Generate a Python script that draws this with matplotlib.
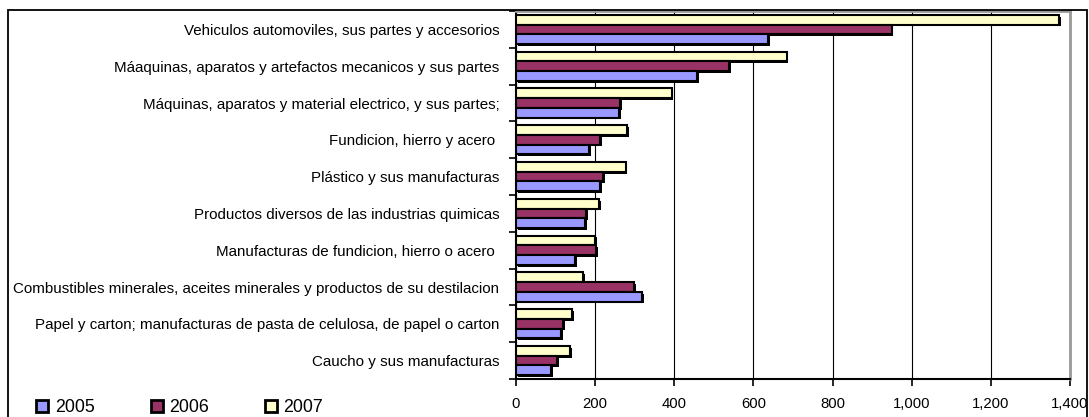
import numpy as np
import matplotlib.pyplot as plt
import matplotlib.patheffects as pe
from matplotlib.lines import Line2D
from matplotlib.patches import Rectangle
from matplotlib.ticker import FuncFormatter

plt.rcParams['font.family'] = ['Liberation Sans', 'DejaVu Sans']

categories = [
    'Vehiculos automoviles, sus partes y accesorios',
    'Máaquinas, aparatos y artefactos mecanicos y sus partes',
    'Máquinas, aparatos y material electrico, y sus partes;',
    'Fundicion, hierro y acero ',
    'Plástico y sus manufacturas',
    'Productos diversos de las industrias quimicas',
    'Manufacturas de fundicion, hierro o acero ',
    'Combustibles minerales, aceites minerales y productos de su destilacion',
    'Papel y carton; manufacturas de pasta de celulosa, de papel o carton',
    'Caucho y sus manufacturas',
]
v2005 = [638, 458, 260, 184, 213, 174, 149, 319, 113, 88]
v2006 = [949, 538, 264, 213, 221, 178, 203, 298, 120, 104]
v2007 = [1373, 684, 393, 281, 277, 210, 199, 169, 141, 136]
years = ['2005', '2006', '2007']
colors = ['#9999FF', '#993366', '#FFFFCC']

fig = plt.figure(figsize=(10.89, 4.17), dpi=100)
ax = fig.add_axes([516/1089, 1 - 379/417, (1070 - 516)/1089, (379 - 11)/417])

y = np.arange(len(categories))
h = 0.265
shadow = [pe.SimplePatchShadow(offset=(1.3, -1.3), shadow_rgbFace='black', alpha=1), pe.Normal()]
for vals, off, c in [(v2007, -h, colors[2]), (v2006, 0, colors[1]), (v2005, h, colors[0])]:
    ax.barh(y + off, vals, height=h, color=c, edgecolor='black', linewidth=1.5,
            path_effects=shadow, zorder=3)

ax.set_xlim(0, 1400)
ax.set_ylim(len(categories) - 0.5, -0.5)
ax.set_xticks(np.arange(0, 1401, 200))
ax.xaxis.set_major_formatter(FuncFormatter(lambda v, p: '{:,.0f}'.format(v)))
ax.grid(axis='x', color='black', linewidth=0.8, zorder=0)
ax.set_yticks(y)
ax.set_yticklabels(categories, fontsize=10.9)
ax.set_yticks(np.arange(-0.5, len(categories), 1), minor=True)
ax.tick_params(axis='y', which='major', length=0, pad=12)
ax.tick_params(axis='y', which='minor', length=5, width=1.2, direction='out')
ax.tick_params(axis='x', length=5, width=1.2, labelsize=10.7, pad=8)

for s in ['left', 'bottom']:
    ax.spines[s].set_color('black')
    ax.spines[s].set_linewidth(1.5)
for s in ['top', 'right']:
    ax.spines[s].set_color('#999999')
    ax.spines[s].set_linewidth(2)

handles = [Line2D([], [], marker='s', linestyle='none', markersize=8,
                  markerfacecolor=c, markeredgecolor='black', markeredgewidth=2)
           for c in colors]
fig.legend(handles, years, loc='lower left', bbox_to_anchor=(28/1089, -0.015), ncol=3,
           frameon=False, fontsize=12.8, handlelength=0.8, handletextpad=0.3,
           columnspacing=3.1, borderaxespad=0)

fig.add_artist(Rectangle((8/1089, -0.1), (1087 - 8)/1089, 1.1 - 10/417,
                         transform=fig.transFigure, fill=False, edgecolor='black',
                         linewidth=1.3, clip_on=False))

fig.savefig('out.png', dpi=100)
